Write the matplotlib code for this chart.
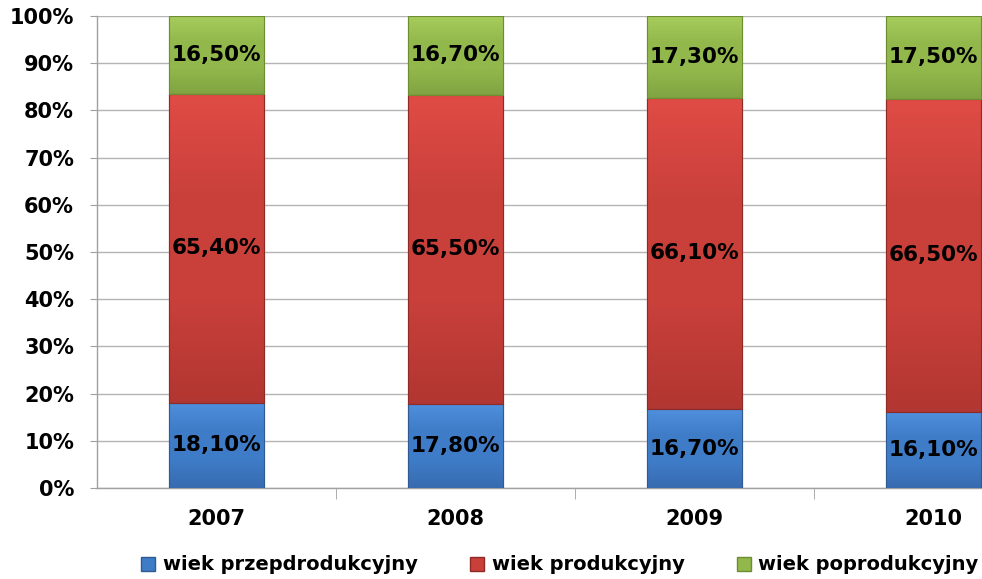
import numpy as np
import matplotlib
matplotlib.use("Agg")
import matplotlib.pyplot as plt
from matplotlib.colors import LinearSegmentedColormap

years = ["2007", "2008", "2009", "2010"]
przed = [18.1, 17.8, 16.7, 16.1]
prod = [65.4, 65.5, 66.1, 66.5]
popr = [16.5, 16.7, 17.3, 17.5]
series_names = ["wiek przepdrodukcyjny", "wiek produkcyjny", "wiek poprodukcyjny"]
y_ticks = [0, 10, 20, 30, 40, 50, 60, 70, 80, 90, 100]

colors = ["#3f7cc8", "#c9403b", "#92b84c"]
light = ["#4f8fdc", "#e04b45", "#a6cc5c"]
dark = ["#386bb0", "#b23631", "#80a442"]
edge = ["#2f5a92", "#8f2a26", "#6f8c33"]

plt.rcParams['font.family'] = ['DejaVu Sans']
fig = plt.figure(figsize=(9.82, 5.79), dpi=100)
ax = fig.add_axes([97/982, 91/579, 885/982, 472/579])

data = np.array([przed, prod, popr])
totals = data.sum(axis=0)
pct = data / totals * 100
x = np.arange(len(years))
width = 0.395
bottom = np.zeros(len(years))
containers = []
for i in range(3):
    bc = ax.bar(x, pct[i], width, bottom=bottom, color=colors[i], edgecolor=edge[i],
                linewidth=0.8, zorder=3, label=series_names[i])
    containers.append(bc)
    for j in range(len(years)):
        ax.text(x[j], bottom[j] + pct[i][j] / 2, f"{data[i][j]:.2f}%".replace(".", ","),
                ha="center", va="center", fontsize=15.5, fontweight="bold",
                color="black", zorder=5)
    bottom = bottom + pct[i]

# gradient fill clipped to bars
grad = np.linspace(1, 0, 100).reshape(-1, 1)
for i, bc in enumerate(containers):
    cmap = LinearSegmentedColormap.from_list("g%d" % i, [dark[i], colors[i], colors[i], light[i]])
    for p in bc.patches:
        x0, y0 = p.get_x(), p.get_y()
        w, h = p.get_width(), p.get_height()
        im = ax.imshow(grad, extent=[x0, x0 + w, y0, y0 + h], aspect="auto",
                       cmap=cmap, zorder=3.5, origin="upper")
        im.set_clip_path(p)
    for p in bc.patches:
        ax.add_patch(plt.Rectangle((p.get_x(), p.get_y()), p.get_width(), p.get_height(),
                                   fill=False, edgecolor=edge[i], linewidth=0.8, zorder=4))

ax.set_xlim(-0.5, -0.5 + 885/239)
ax.set_ylim(0, 100)
ax.set_yticks(y_ticks)
ax.set_yticklabels([f"{t}%" for t in y_ticks], fontsize=15, fontweight="bold")
ax.set_xticks(x)
ax.set_xticklabels(years, fontsize=15, fontweight="bold")
ax.set_xticks([0.5, 1.5, 2.5], minor=True)
ax.tick_params(axis="x", which="major", length=0, pad=15)
ax.tick_params(axis="x", which="minor", length=8, color="#a0a0a0", direction="out")
ax.tick_params(axis="y", length=5, color="#a0a0a0", pad=11.5)
ax.yaxis.grid(True, color="#b4b4b4", linewidth=1.0, zorder=0)
ax.set_axisbelow(True)
for s in ["top", "right"]:
    ax.spines[s].set_visible(False)
for s in ["left", "bottom"]:
    ax.spines[s].set_color("#a0a0a0")
    ax.spines[s].set_linewidth(1.0)

handles = [plt.Rectangle((0, 0), 1, 1, facecolor=colors[i], edgecolor=edge[i]) for i in range(3)]
fig.legend(handles, series_names, loc="center", bbox_to_anchor=(560/982, 1 - 565/579),
           ncol=3, frameon=False, prop={"size": 14, "weight": "bold"},
           handlelength=0.7, handleheight=0.7, handletextpad=0.4, columnspacing=2.7)

fig.savefig("out.png", dpi=100)
